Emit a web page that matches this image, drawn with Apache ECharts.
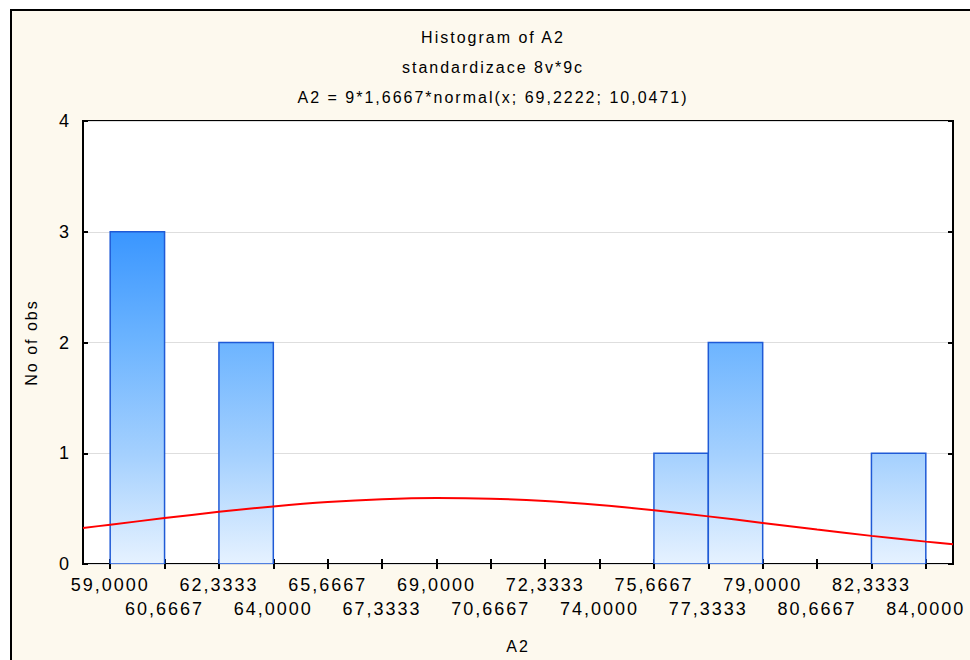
<!DOCTYPE html>
<html>
<head>
<meta charset="utf-8">
<script src="https://cdn.jsdelivr.net/npm/echarts@6/dist/echarts.min.js"></script>
<style>
  html, body { margin: 0; padding: 0; background: #ffffff; }
  #chart { width: 970px; height: 660px; }
  #chart text { letter-spacing: 2px; }
</style>
</head>
<body>
<div id="chart"></div>
<script>
// Histogram bins (lower edge, upper edge) and observation counts
const binStart = [59.0000, 62.3333, 75.6667, 77.3333, 82.3333];
const binEnd   = [60.6667, 64.0000, 77.3333, 79.0000, 84.0000];
const counts   = [3, 2, 1, 2, 1];

// Tick positions on the A2 axis; labels alternate between two rows
const xTicks = [59.0000, 60.6667, 62.3333, 64.0000, 65.6667, 67.3333, 69.0000, 70.6667,
                72.3333, 74.0000, 75.6667, 77.3333, 79.0000, 80.6667, 82.3333, 84.0000];
const xLabelsRow1 = [59.0000, 62.3333, 65.6667, 69.0000, 72.3333, 75.6667, 79.0000, 82.3333];
const xLabelsRow2 = [60.6667, 64.0000, 67.3333, 70.6667, 74.0000, 77.3333, 80.6667, 84.0000];

// Fitted normal curve, sampled along the axis
const curveX = [58.1667, 59.0000, 60.6667, 62.3333, 64.0000, 65.6667, 67.3333, 69.0000, 70.6667,
                72.3333, 74.0000, 75.6667, 77.3333, 79.0000, 80.6667, 82.3333, 84.0000, 84.8333];
const curveY = [0.325, 0.355, 0.4145, 0.471, 0.520, 0.5595, 0.585, 0.5955, 0.5895,
                0.568, 0.532, 0.485, 0.430, 0.371, 0.311, 0.254, 0.202, 0.178];

const titleLines = ['Histogram of A2', 'standardizace 8v*9c', 'A2 = 9*1,6667*normal(x; 69,2222; 10,0471)'];

const FONT = "'Liberation Sans', Arial, sans-serif";
const xMin = 58.1667, xMax = 84.8333;

const fmt = v => v.toFixed(4).replace('.', ',');

const chart = echarts.init(document.getElementById('chart'), null, { renderer: 'svg' });

const topCount = Math.max(...counts);

// Axis carrying one row of tick labels under the plot
const labelAxis = (values, offset) => ({
  type: 'value', position: 'bottom', offset: offset, min: xMin, max: xMax,
  axisLine: { show: false }, axisTick: { show: false }, splitLine: { show: false },
  axisLabel: {
    customValues: values, color: '#000000', fontSize: 18, margin: 12,
    fontFamily: FONT, showMinLabel: true, showMaxLabel: true, formatter: fmt
  }
});

chart.setOption({
  animation: false,
  backgroundColor: '#ffffff',
  textStyle: { fontFamily: FONT },
  graphic: [
    {
      type: 'rect', z: -10,
      shape: { x: 11, y: 10, width: 1000, height: 700 },
      style: { fill: '#fdf9ee', stroke: '#000000', lineWidth: 2 }
    },
    ...titleLines.map((t, i) => ({
      type: 'text', z: 10,
      x: 493, y: 37 + i * 30,
      style: {
        text: t, fill: '#000000', font: '16px ' + FONT,
        align: 'center', verticalAlign: 'middle',
        textAlign: 'center', textVerticalAlign: 'middle'
      }
    }))
  ],
  grid: {
    left: 83, top: 121, right: 17, bottom: 96,
    show: true, backgroundColor: '#ffffff', borderColor: '#000000', borderWidth: 2,
    outerBoundsMode: 'none'
  },
  xAxis: [
    {
      type: 'value', position: 'bottom', min: xMin, max: xMax,
      axisLine: { show: false },
      splitLine: { show: false },
      axisTick: { show: true, inside: true, length: 5, customValues: xTicks,
                  lineStyle: { color: '#000000', width: 2 } },
      axisLabel: { show: false },
      name: 'A2', nameLocation: 'middle', nameGap: 74,
      nameTextStyle: { color: '#000000', fontSize: 16, fontFamily: FONT }
    },
    {
      type: 'value', position: 'top', min: xMin, max: xMax,
      axisLine: { show: false },
      splitLine: { show: false },
      axisTick: { show: true, inside: true, length: 5, customValues: xTicks,
                  lineStyle: { color: '#000000', width: 2 } },
      axisLabel: { show: false }
    },
    labelAxis(xLabelsRow1, 0),
    labelAxis(xLabelsRow2, 23.5)
  ],
  yAxis: [
    {
      type: 'value', position: 'left', min: 0, max: 4, interval: 1,
      axisLine: { show: false },
      axisTick: { show: true, inside: true, length: 5, lineStyle: { color: '#000000', width: 2 } },
      axisLabel: { color: '#000000', fontSize: 18, margin: 12, fontFamily: FONT },
      splitLine: { show: true, lineStyle: { color: '#dedede', width: 1 } },
      name: 'No of obs', nameLocation: 'middle', nameGap: 44,
      nameTextStyle: { color: '#000000', fontSize: 16, fontFamily: FONT }
    },
    {
      type: 'value', position: 'right', min: 0, max: 4, interval: 1,
      axisLine: { show: false },
      axisTick: { show: true, inside: true, length: 5, lineStyle: { color: '#000000', width: 2 } },
      axisLabel: { show: false },
      splitLine: { show: false }
    }
  ],
  series: [
    {
      type: 'custom',
      xAxisIndex: 0, yAxisIndex: 0,
      clip: true,
      encode: { x: [0, 1], y: 2 },
      data: binStart.map((s, i) => [s, binEnd[i], counts[i]]),
      renderItem: (params, api) => {
        const p0 = api.coord([api.value(0), api.value(2)]);
        const p1 = api.coord([api.value(1), 0]);
        const gTop = api.coord([api.value(0), topCount])[1];
        return {
          type: 'rect',
          shape: { x: p0[0], y: p0[1], width: p1[0] - p0[0], height: p1[1] - p0[1] },
          style: {
            fill: new echarts.graphic.LinearGradient(0, gTop, 0, p1[1], [
              { offset: 0, color: '#3a96ff' },
              { offset: 0.33, color: '#6cb4ff' },
              { offset: 0.67, color: '#a4d0fe' },
              { offset: 1, color: '#e6f2ff' }
            ], true),
            stroke: '#1f5ad6', lineWidth: 1.5
          }
        };
      }
    },
    {
      type: 'line',
      xAxisIndex: 0, yAxisIndex: 0,
      data: curveX.map((x, i) => [x, curveY[i]]),
      smooth: 0.3,
      showSymbol: false,
      symbol: 'none',
      clip: true,
      lineStyle: { color: '#ff0000', width: 2 },
      z: 5
    }
  ]
});
</script>
</body>
</html>
